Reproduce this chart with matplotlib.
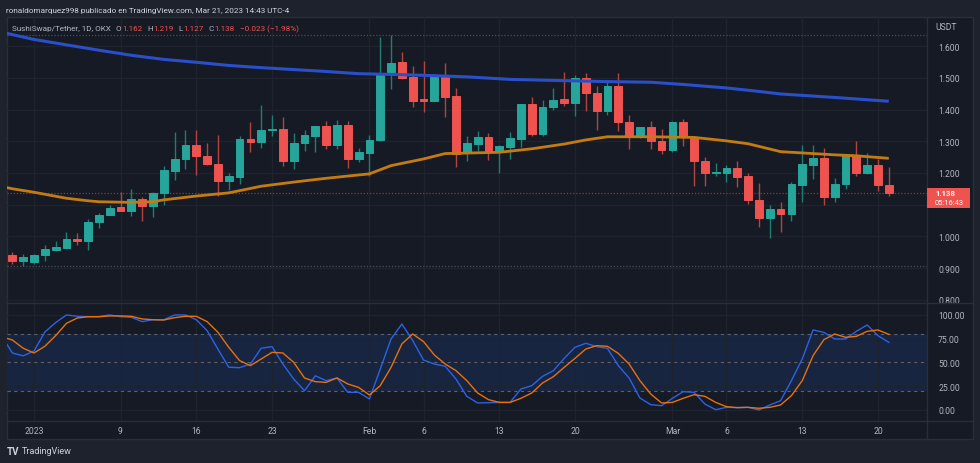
import numpy as np
import matplotlib
matplotlib.use("Agg")
import matplotlib.pyplot as plt
from matplotlib.patches import Rectangle
from matplotlib.lines import Line2D

plt.rcParams['font.family'] = ['Roboto', 'DejaVu Sans']

#--- candles: day 0 = Jan 1 2023, first candle Dec 30 2022 ---#
first_day = -2
opens = [0.941, 0.921, 0.920, 0.940, 0.958, 0.964, 0.992, 0.985, 1.044, 1.067,
         1.091, 1.079, 1.119, 1.095, 1.138, 1.205, 1.245, 1.287, 1.253, 1.228,
         1.173, 1.188, 1.307, 1.296, 1.335, 1.339, 1.238, 1.295, 1.317, 1.347,
         1.289, 1.351, 1.244, 1.263, 1.304, 1.517, 1.549, 1.501, 1.433, 1.428,
         1.501, 1.442, 1.262, 1.292, 1.313, 1.267, 1.282, 1.307, 1.416, 1.322,
         1.409, 1.432, 1.421, 1.500, 1.453, 1.394, 1.475, 1.360, 1.315, 1.346,
         1.300, 1.273, 1.360, 1.314, 1.238, 1.201, 1.200, 1.217, 1.190, 1.115,
         1.057, 1.086, 1.069, 1.163, 1.226, 1.247, 1.125, 1.164, 1.252, 1.200,
         1.224, 1.162]
highs = [0.952, 0.944, 0.944, 0.973, 0.985, 1.014, 1.010, 1.055, 1.074, 1.099,
         1.139, 1.148, 1.124, 1.141, 1.223, 1.328, 1.335, 1.335, 1.293, 1.318,
         1.200, 1.315, 1.360, 1.414, 1.383, 1.375, 1.325, 1.336, 1.347, 1.364,
         1.368, 1.363, 1.279, 1.318, 1.629, 1.636, 1.580, 1.536, 1.552, 1.512,
         1.547, 1.469, 1.315, 1.331, 1.325, 1.288, 1.328, 1.416, 1.440, 1.430,
         1.468, 1.517, 1.510, 1.515, 1.473, 1.488, 1.514, 1.384, 1.346, 1.365,
         1.338, 1.364, 1.370, 1.316, 1.249, 1.230, 1.225, 1.238, 1.199, 1.168,
         1.099, 1.109, 1.170, 1.288, 1.288, 1.279, 1.184, 1.255, 1.301, 1.263,
         1.244, 1.219]
lows = [0.913, 0.905, 0.913, 0.923, 0.953, 0.964, 0.971, 0.958, 1.027, 1.067,
        1.079, 1.063, 1.049, 1.060, 1.099, 1.179, 1.212, 1.193, 1.225, 1.126,
        1.147, 1.165, 1.265, 1.278, 1.315, 1.221, 1.212, 1.270, 1.267, 1.275,
        1.275, 1.217, 1.233, 1.189, 1.300, 1.465, 1.496, 1.407, 1.391, 1.428,
        1.375, 1.220, 1.236, 1.270, 1.242, 1.200, 1.244, 1.281, 1.315, 1.315,
        1.398, 1.412, 1.378, 1.395, 1.336, 1.383, 1.333, 1.275, 1.309, 1.275,
        1.260, 1.265, 1.286, 1.160, 1.160, 1.191, 1.172, 1.157, 1.102, 1.028,
        0.994, 1.015, 1.049, 1.109, 1.181, 1.100, 1.109, 1.149, 1.191, 1.197,
        1.144, 1.127]
closes = [0.921, 0.935, 0.942, 0.960, 0.966, 0.990, 0.985, 1.044, 1.067, 1.089,
          1.079, 1.117, 1.095, 1.138, 1.208, 1.244, 1.287, 1.253, 1.227, 1.176,
          1.190, 1.307, 1.296, 1.336, 1.340, 1.239, 1.294, 1.320, 1.347, 1.288,
          1.352, 1.244, 1.265, 1.303, 1.516, 1.548, 1.500, 1.428, 1.428, 1.501,
          1.441, 1.261, 1.293, 1.313, 1.267, 1.284, 1.309, 1.416, 1.322, 1.409,
          1.431, 1.421, 1.500, 1.451, 1.394, 1.475, 1.360, 1.318, 1.346, 1.300,
          1.273, 1.360, 1.314, 1.238, 1.200, 1.203, 1.217, 1.188, 1.116, 1.057,
          1.086, 1.070, 1.164, 1.227, 1.247, 1.123, 1.164, 1.255, 1.200, 1.224,
          1.161, 1.138]

#--- moving averages (read at sample days) ---#
ma_slow_days = [-3, 0, 3, 6, 9, 12, 15, 18, 21, 24, 27, 30, 35, 40, 44, 49,
                53, 57, 60, 64, 67, 69, 74, 79]
ma_slow = [1.644, 1.621, 1.604, 1.587, 1.571, 1.558, 1.549, 1.539, 1.532, 1.526,
           1.520, 1.513, 1.509, 1.503, 1.495, 1.491, 1.488, 1.486, 1.479, 1.468,
           1.457, 1.449, 1.438, 1.426]
ma_fast_days = [-3, -2, 0, 3, 5, 6, 9, 11, 12, 15, 18, 21, 24, 27, 31, 33, 36,
                38, 43, 46, 49, 51, 53, 57, 61, 64, 66, 69, 71, 74, 76, 79]
ma_fast = [1.157, 1.150, 1.139, 1.120, 1.112, 1.109, 1.107, 1.109, 1.115, 1.127,
           1.137, 1.158, 1.171, 1.183, 1.197, 1.223, 1.244, 1.261, 1.265, 1.276,
           1.291, 1.304, 1.314, 1.314, 1.312, 1.301, 1.292, 1.267, 1.263, 1.257,
           1.254, 1.246]

#--- stoch RSI, first value at Dec 29 ---#
stoch_first_day = -3
stoch_k = [78, 60, 57, 62, 82, 92, 100, 98.6, 98.2, 98.2, 100,
           98.2, 97.5, 93, 95, 95, 100, 100, 95, 83.5, 64,
           45, 44.5, 48.4, 65, 66.7, 48.4, 32.6, 20.3, 36, 30.9,
           33.7, 18.6, 18.6, 11.6, 43, 74.7, 90.5, 73, 52.6, 48.4,
           46, 32.6, 14.4, 7.4, 7.7,
           8, 8, 22.1, 25.6, 35.4, 41.4, 54.4, 66, 70.2, 66.7,
           64.9, 46.7, 33.7, 12.6, 5.6, 4.5, 12.3, 19.3, 18.6, 6.3,
           0.3, 2.8, 2.5, 2.8, 0, 5.3, 9.8, 30.9, 53.7, 84.2,
           81.7, 74.7, 74.7, 82.8, 89.5, 78.2, 71.2]
stoch_d = [77, 73.7, 65, 60, 67, 78.2, 91.2, 96.8, 98.2, 98.2, 99,
           99, 98.6, 95.8, 95, 94.7, 97.2, 98.6, 98.6, 93, 81.8,
           66, 52, 46.7, 53.7, 60.7, 60, 50.2, 33.7, 29.8, 29.1,
           33.7, 27.4, 23.8, 15.8, 25.6, 44.9, 69.5, 80, 72, 57.9,
           48.4, 41.4, 30.9, 17.9, 10.9,
           8, 8, 12.3, 17.9, 28.4, 35.1, 44.9, 54.4, 64.2, 67.7,
           67, 59.6, 48.4, 30.9, 16.8, 7.4, 8, 12.3, 16.1, 14.4,
           8, 3.5, 2.5, 2.8, 1.8, 2.8, 5.3, 15.1, 30.9, 57.2,
           74, 80, 76.5, 77.5, 82.8, 84.2, 79.6]

tick_days = [0, 8, 15, 22, 31, 36, 43, 50, 59, 64, 71, 78]
tick_labels = ['2023', '9', '16', '23', 'Feb', '6', '13', '20', 'Mar', '6', '13', '20']
price_ticks = [0.8, 0.9, 1.0, 1.1, 1.2, 1.3, 1.4, 1.5, 1.6]
osc_ticks = [0, 25, 50, 75, 100]

#--- colors ---#
BG_OUT = '#1e222d'
BG = '#161a25'
BORDER = '#2a2e39'
GRID = '#1f232e'
TXT = '#b2b5be'
UP = '#26a69a'
DOWN = '#ef5350'

W, H = 980, 464

def px_box(x0, y0, x1, y1):
    return [x0 / W, 1 - y1 / H, (x1 - x0) / W, (y1 - y0) / H]

fig = plt.figure(figsize=(W / 100, H / 100), dpi=100, facecolor=BG_OUT)
fig.patches.append(Rectangle((7 / W, 1 - 440 / H), 966 / W, 422 / H,
                             transform=fig.transFigure, fc=BG, ec=BORDER, lw=1, zorder=-5))

ax1 = fig.add_axes(px_box(7, 18, 927, 304))
ax2 = fig.add_axes(px_box(7, 304, 927, 421.5), sharex=ax1)

for ax in (ax1, ax2):
    ax.set_facecolor('none')
    for s in ax.spines.values():
        s.set_visible(False)
    ax.set_axisbelow(True)
    ax.grid(color=GRID, lw=0.9)
    ax.yaxis.tick_right()
    ax.tick_params(axis='y', length=0, pad=8, labelsize=6.2, labelcolor=TXT)
    ax.tick_params(axis='x', length=0)

#--- candles ---#
o = np.array(opens); h = np.array(highs); l = np.array(lows); c = np.array(closes)
days = first_day + np.arange(len(o))
up = c >= o
cols = np.where(up, UP, DOWN)
wick_cols = np.where(up, '#1f7d74', '#b3443f')
ax1.vlines(days, l, h, colors=wick_cols, lw=1, zorder=2)
ax1.bar(days, np.abs(c - o), bottom=np.minimum(o, c), width=0.72,
        color=cols, edgecolor=cols, lw=0.7, zorder=3)

ax1.plot(ma_slow_days, ma_slow, color='#2a4fc9', lw=2.2, zorder=4, solid_capstyle='butt')
ax1.plot(ma_fast_days, ma_fast, color='#c47c12', lw=2.0, zorder=4, solid_capstyle='butt')

# high / low / last price lines
ax1.axhline(h.max(), color='#4a4e59', ls=(0, (1, 1.5)), lw=0.9, zorder=1)
ax1.axhline(l.min(), color='#4a4e59', ls=(0, (1, 1.5)), lw=0.9, zorder=1)
ax1.axhline(c[-1], color='#8a3a3a', ls=(0, (1, 1.5)), lw=0.9, zorder=1)

ax1.set_xlim(-2.495, 82.53)
ax1.set_ylim(0.7896, 1.6918)
ax1.set_yticks(price_ticks)
# the label under the last-price tag is hidden, like on the platform
ax1.set_yticklabels(['' if abs(v - c[-1]) < 0.05 else f'{v:.3f}' for v in price_ticks])
ax1.set_xticks(tick_days)
ax1.tick_params(axis='x', labelbottom=False)

#--- stoch RSI ---#
sd = stoch_first_day + np.arange(len(stoch_k))
ax2.axhspan(20, 80, color='#172540', lw=0, zorder=0.5)
for lev in (80, 50, 20):
    ax2.axhline(lev, color='#5d606b', ls=(0, (3, 3)), lw=0.8, zorder=1)
ax2.plot(sd, stoch_k, color='#2a62e8', lw=1.0, zorder=3)
ax2.plot(sd, stoch_d, color='#e8700f', lw=1.0, zorder=3)
ax2.set_ylim(-11.05, 112.6)
ax2.set_yticks(osc_ticks)
ax2.set_yticklabels([f'{v:.2f}' for v in osc_ticks])
ax2.set_xticks(tick_days)
ax2.set_xticklabels(tick_labels)
ax2.tick_params(axis='x', pad=4, labelsize=6.2, labelcolor=TXT)

#--- separators ---#
for (x0, y0, x1, y1) in [(7, 304, 973, 304), (7, 421.5, 973, 421.5), (927, 18, 927, 440)]:
    fig.lines.append(Line2D([x0 / W, x1 / W], [1 - y0 / H, 1 - y1 / H],
                            transform=fig.transFigure, color=BORDER, lw=1))

#--- texts ---#
fig.text(6 / W, 1 - 10.5 / H, 'ronaldomarquez998 publicado en TradingView.com, Mar 21, 2023 14:43 UTC-4',
         color='#d1d4dc', fontsize=5.9, va='center', ha='left')
fig.text(935 / W, 1 - 27 / H, 'USDT', color=TXT, fontsize=6.2, va='center', ha='left')

chg = c[-1] - c[-2]
pct = chg / c[-2] * 100
legend_parts = [('SushiSwap/Tether, 1D, OKX', TXT, 5), ('O', TXT, 0.5), (f'{o[-1]:.3f}', DOWN, 5),
                ('H', TXT, 0.5), (f'{h[-1]:.3f}', DOWN, 5), ('L', TXT, 0.5), (f'{l[-1]:.3f}', DOWN, 5),
                ('C', TXT, 0.5), (f'{c[-1]:.3f}', DOWN, 5),
                (f'{chg:+.3f} ({pct:+.2f}%)'.replace('-', '\u2212'), DOWN, 0)]
renderer = fig.canvas.get_renderer()
x = 12
for s, col, gap in legend_parts:
    t = fig.text(x / W, 1 - 29 / H, s, color=col, fontsize=5.9, va='center', ha='left')
    x += t.get_window_extent(renderer).width + gap

# last price tag
fig.canvas.draw()
_, py = ax1.transData.transform((0, c[-1]))
fig.patches.append(Rectangle((927 / W, (py - 15) / H), 43 / W, 20 / H,
                             transform=fig.transFigure, fc=DOWN, ec='none', zorder=5))
fig.text(935 / W, (py + 0.5) / H, f'{c[-1]:.3f}', color='white', fontsize=5.6, fontweight='bold',
         va='center', ha='left', zorder=6)
fig.text(935 / W, (py - 10) / H, '05:16:43', color='white', fontsize=5.4,
         va='center', ha='left', zorder=6)

# footer logo
fig.text(7 / W, 1 - 452 / H, 'TV', color='#d1d4dc', fontsize=7, fontweight='bold', va='center', ha='left')
fig.text(22 / W, 1 - 452 / H, 'TradingView', color='#d1d4dc', fontsize=6.5, va='center', ha='left')

fig.savefig('out.png', dpi=100, facecolor=fig.get_facecolor())
